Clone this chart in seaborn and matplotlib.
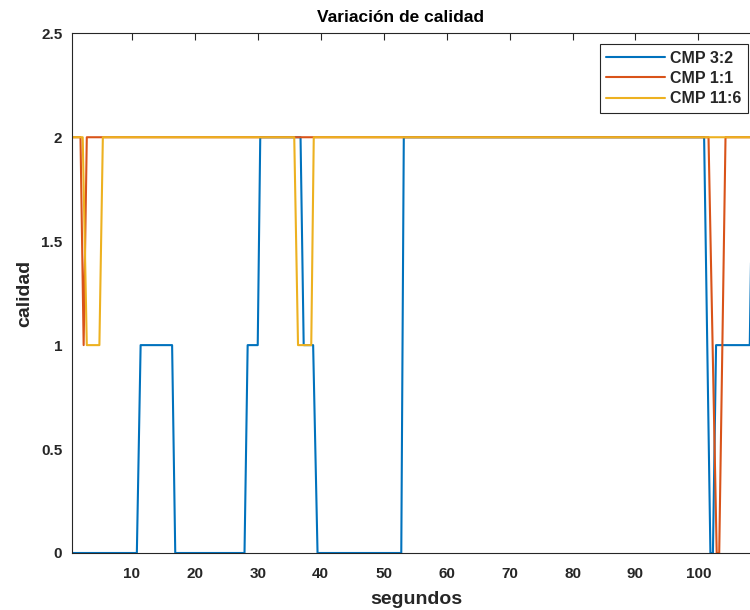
import matplotlib
matplotlib.use("Agg")
import matplotlib.pyplot as plt
import seaborn as sns
import pandas as pd

# calidad por segundo para cada configuracion
t_cmp32 = [0.5, 10.8, 11.4, 16.4, 16.9, 27.9, 28.4, 30.0, 30.4, 36.8, 37.3, 38.8, 39.5,
           52.8, 53.2, 100.9, 101.9, 102.3, 102.8, 108.15, 108.65, 110.0]
q_cmp32 = [0, 0, 1, 1, 0, 0, 1, 1, 2, 2, 1, 1, 0, 0, 2, 2, 0, 0, 1, 1, 2, 2]

t_cmp11 = [0.5, 1.85, 2.35, 2.85, 101.6, 102.9, 103.3, 104.3, 110.0]
q_cmp11 = [2, 2, 1, 2, 2, 0, 0, 2, 2]

t_cmp116 = [0.5, 2.2, 2.85, 4.85, 5.4, 35.8, 36.4, 38.5, 38.9, 110.0]
q_cmp116 = [2, 2, 1, 1, 2, 2, 1, 1, 2, 2]

series = ["CMP 3:2", "CMP 1:1", "CMP 11:6"]
colors = ["#0072BD", "#D95319", "#EDB120"]
x_ticks = [10, 20, 30, 40, 50, 60, 70, 80, 90, 100]
y_ticks = [0, 0.5, 1, 1.5, 2, 2.5]
y_tick_labels = ["0", "0.5", "1", "1.5", "2", "2.5"]

frames = []
for name, t, q in zip(series, [t_cmp32, t_cmp11, t_cmp116], [q_cmp32, q_cmp11, q_cmp116]):
    frames.append(pd.DataFrame({"segundos": t, "calidad": q, "serie": name}))
df = pd.concat(frames, ignore_index=True)

sns.set_theme(style="white")
plt.rcParams["font.family"] = ["Liberation Sans", "DejaVu Sans"]
plt.rcParams["font.weight"] = "bold"
dark = "#262626"

# el eje derecho queda fuera de la imagen, como en la captura original
fig = plt.figure(figsize=(7.5, 6.1), dpi=100)
ax = fig.add_axes([72 / 750, 57 / 610, 689.4 / 750, 519.7 / 610])

sns.lineplot(data=df, x="segundos", y="calidad", hue="serie", hue_order=series,
             palette=colors, estimator=None, sort=False, linewidth=1.5, ax=ax)

ax.set_xlim(0.5, 110)
ax.set_ylim(0, 2.5)
ax.set_xticks(x_ticks)
ax.set_xticklabels([str(v) for v in x_ticks])
ax.set_yticks(y_ticks)
ax.set_yticklabels(y_tick_labels)
ax.tick_params(direction="in", top=True, right=False, length=5, width=0.8,
               colors=dark, labelsize=11)
ax.tick_params(axis="x", pad=10)
ax.tick_params(axis="y", pad=7)
for s in ax.spines.values():
    s.set_color(dark)
    s.set_linewidth(0.8)

ax.set_title("Variación de calidad", fontsize=12.5, fontweight="bold", color="black",
             pad=8, x=328.5 / 689.4)
ax.set_xlabel("segundos", fontsize=14, fontweight="bold", color=dark, labelpad=7)
ax.set_ylabel("calidad", fontsize=14, fontweight="bold", color=dark, labelpad=5.5)

# leyenda: caja de x=598 a 748 px
leg = ax.legend(loc="upper right", bbox_to_anchor=(676 / 689.4, 0.979), fontsize=11.5,
                handlelength=3.7, frameon=True, fancybox=False, framealpha=1,
                borderpad=0.4, labelspacing=0.33, handletextpad=0.3, borderaxespad=0)
leg.get_frame().set_edgecolor(dark)
leg.get_frame().set_linewidth(0.8)
for txt in leg.get_texts():
    txt.set_fontweight("bold")

fig.savefig("out.png", dpi=100)
